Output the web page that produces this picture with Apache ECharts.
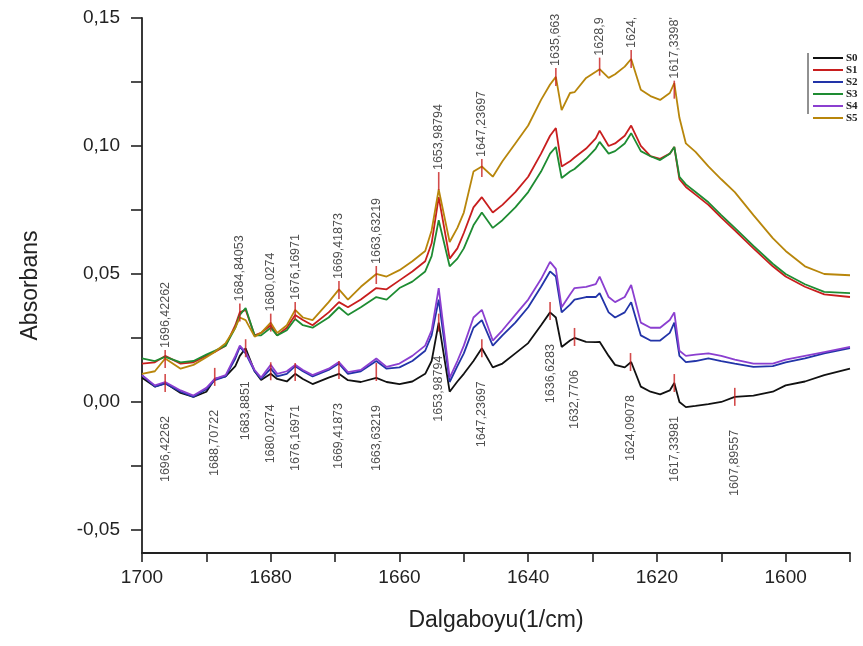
<!DOCTYPE html>
<html>
<head>
<meta charset="utf-8">
<style>
    html, body { margin: 0; padding: 0; background: #fff; }
    #main { width: 863px; height: 646px; }
</style>
</head>
<body>
<div id="main"></div>
<script src="https://cdn.jsdelivr.net/npm/echarts@6/dist/echarts.min.js"></script>
<script>
    // dalgaboyu (1/cm) - ortak x noktalari
    var wn = [1700, 1698, 1696.4, 1694, 1692, 1690, 1688.7, 1687, 1685.5, 1684.8,
        1683.9, 1682.5, 1681.5, 1680, 1679, 1677.5, 1676.2, 1675, 1673.5, 1671,
        1669.4, 1668, 1666, 1663.6, 1662, 1660, 1658, 1656, 1655, 1653.9,
        1652.2, 1651, 1650, 1648.5, 1647.2, 1645.5, 1644, 1642, 1640, 1638,
        1636.6, 1635.7, 1634.8, 1633.5, 1632.8, 1631, 1629.5, 1628.9, 1627.5, 1626.5,
        1625, 1624, 1622.5, 1621, 1619.5, 1618, 1617.3, 1616.5, 1615.5, 1614,
        1612, 1610, 1607.9, 1605, 1602, 1600, 1597, 1594, 1590];

    var s0 = [0.0095, 0.006, 0.0074, 0.0035, 0.002, 0.004, 0.009, 0.010, 0.014, 0.018,
        0.021, 0.012, 0.0086, 0.011, 0.009, 0.008, 0.011, 0.009, 0.007, 0.0095,
        0.011, 0.0085, 0.0078, 0.0094, 0.0078, 0.007, 0.008, 0.011, 0.016, 0.031,
        0.004, 0.008, 0.011, 0.016, 0.021, 0.0135, 0.015, 0.019, 0.023, 0.030,
        0.035, 0.033, 0.0215, 0.024, 0.025, 0.0235, 0.0234, 0.0235, 0.018, 0.0145,
        0.0135, 0.0156, 0.006, 0.004, 0.003, 0.0045, 0.0074, 0.0, -0.002, -0.0015,
        -0.0008, 0.0, 0.002, 0.0025, 0.004, 0.0065, 0.008, 0.0105, 0.013];

    var s1 = [0.015, 0.0155, 0.018, 0.015, 0.0155, 0.018, 0.0195, 0.022, 0.030, 0.035,
        0.036, 0.026, 0.027, 0.030, 0.026, 0.029, 0.034, 0.032, 0.030, 0.035,
        0.039, 0.037, 0.040, 0.0445, 0.044, 0.0475, 0.051, 0.055, 0.062, 0.080,
        0.056, 0.060, 0.066, 0.076, 0.080, 0.074, 0.077, 0.082, 0.088, 0.097,
        0.104, 0.107, 0.092, 0.094, 0.0955, 0.099, 0.103, 0.106, 0.100, 0.101,
        0.104, 0.108, 0.100, 0.096, 0.095, 0.097, 0.0996, 0.087, 0.084, 0.081,
        0.077, 0.072, 0.067, 0.060, 0.053, 0.049, 0.045, 0.042, 0.041];

    var s2 = [0.0105, 0.006, 0.0072, 0.004, 0.002, 0.005, 0.0085, 0.010, 0.017, 0.0215,
        0.019, 0.012, 0.009, 0.013, 0.010, 0.011, 0.014, 0.012, 0.010, 0.0125,
        0.015, 0.011, 0.012, 0.016, 0.013, 0.0135, 0.016, 0.020, 0.026, 0.040,
        0.0078, 0.014, 0.019, 0.029, 0.032, 0.022, 0.026, 0.031, 0.037, 0.045,
        0.051, 0.049, 0.035, 0.038, 0.040, 0.041, 0.041, 0.0425, 0.035, 0.033,
        0.035, 0.039, 0.026, 0.024, 0.024, 0.027, 0.031, 0.018, 0.0156, 0.016,
        0.017, 0.016, 0.015, 0.0137, 0.014, 0.0155, 0.017, 0.019, 0.021];

    var s3 = [0.017, 0.016, 0.0176, 0.0155, 0.016, 0.0185, 0.020, 0.022, 0.029, 0.034,
        0.0367, 0.026, 0.026, 0.029, 0.026, 0.028, 0.0324, 0.030, 0.029, 0.033,
        0.037, 0.034, 0.037, 0.041, 0.040, 0.0445, 0.047, 0.051, 0.057, 0.071,
        0.053, 0.056, 0.060, 0.069, 0.074, 0.068, 0.071, 0.076, 0.082, 0.090,
        0.097, 0.0996, 0.0875, 0.090, 0.091, 0.095, 0.099, 0.1016, 0.097, 0.098,
        0.101, 0.105, 0.098, 0.096, 0.0945, 0.097, 0.0996, 0.088, 0.085, 0.082,
        0.078, 0.073, 0.068, 0.061, 0.054, 0.050, 0.046, 0.043, 0.0425];

    var s4 = [0.0105, 0.0065, 0.0078, 0.0045, 0.0025, 0.0055, 0.009, 0.0105, 0.018, 0.022,
        0.0195, 0.0125, 0.0095, 0.0145, 0.011, 0.012, 0.0145, 0.0125, 0.0105, 0.013,
        0.0156, 0.0117, 0.0125, 0.017, 0.0137, 0.015, 0.018, 0.022, 0.028, 0.0445,
        0.0094, 0.016, 0.022, 0.033, 0.036, 0.024, 0.028, 0.034, 0.040, 0.048,
        0.0547, 0.052, 0.037, 0.042, 0.0445, 0.045, 0.046, 0.049, 0.041, 0.039,
        0.041, 0.0457, 0.031, 0.029, 0.029, 0.032, 0.035, 0.020, 0.018, 0.0185,
        0.019, 0.018, 0.0165, 0.015, 0.015, 0.0165, 0.018, 0.0195, 0.0215];

    var s5 = [0.011, 0.012, 0.017, 0.013, 0.0145, 0.0175, 0.0195, 0.023, 0.029, 0.033,
        0.032, 0.0255, 0.027, 0.031, 0.027, 0.030, 0.036, 0.033, 0.032, 0.039,
        0.044, 0.040, 0.045, 0.050, 0.049, 0.0515, 0.055, 0.059, 0.067, 0.083,
        0.0625, 0.068, 0.074, 0.090, 0.092, 0.088, 0.094, 0.101, 0.108, 0.118,
        0.124, 0.127, 0.114, 0.1207, 0.121, 0.1266, 0.129, 0.130, 0.1266, 0.128,
        0.131, 0.134, 0.122, 0.1195, 0.118, 0.1207, 0.1246, 0.111, 0.101, 0.0977,
        0.092, 0.087, 0.082, 0.073, 0.064, 0.059, 0.053, 0.050, 0.0495];

    var names = ['S0', 'S1', 'S2', 'S3', 'S4', 'S5'];
    var colors = ['#111111', '#c81e1e', '#2234a8', '#1e8c32', '#8b3fd0', '#b8860b'];

    // ust etiketler (S1/S3/S5 grubu)
    var topPeakWn = [1696.4, 1684.8, 1680, 1676.2, 1669.4, 1663.6, 1653.9, 1647.2, 1635.7, 1628.9, 1624, 1617.3];
    var topPeakVal = [0.0168, 0.035, 0.031, 0.0355, 0.0437, 0.0496, 0.0863, 0.0914, 0.127, 0.131, 0.134, 0.122];
    var topPeakText = ['1696,42262', '1684,84053', '1680,0274', '1676,16971', '1669,41873', '1663,63219',
        '1653,98794', '1647,23697', '1635,663', '1628,9', '1624,', "1617,3398'"];

    // alt etiketler (S0 egrisi)
    var lowPeakWn = [1696.4, 1688.7, 1683.9, 1680, 1676.2, 1669.4, 1663.6, 1653.9, 1647.2, 1636.6, 1632.8, 1624.1, 1617.3, 1607.9];
    var lowPeakVal = [0.0074, 0.0098, 0.021, 0.012, 0.0117, 0.0125, 0.0117, 0.031, 0.021, 0.0355, 0.0254, 0.0156, 0.0074, 0.002];
    var lowPeakText = ['1696,42262', '1688,70722', '1683,8851', '1680,0274', '1676,16971', '1669,41873', '1663,63219',
        '1653,98794', '1647,23697', '1636,6283', '1632,7706', '1624,09078', '1617,33981', '1607,89557'];

    var xTicks = [1590, 1600, 1610, 1620, 1630, 1640, 1650, 1660, 1670, 1680, 1690, 1700];
    var xLabels = [1600, 1620, 1640, 1660, 1680, 1700];
    var yTicks = [-0.05, -0.025, 0, 0.025, 0.05, 0.075, 0.1, 0.125, 0.15];
    var yLabels = [-0.05, 0, 0.05, 0.1, 0.15];

    var allVals = [s0, s1, s2, s3, s4, s5];
    var fontSans = "'Liberation Sans', Arial, sans-serif";

    var series = names.map(function (n, k) {
        return {
            name: n,
            type: 'line',
            symbol: 'none',
            showSymbol: false,
            silent: true,
            z: 2,
            lineStyle: { width: 1.8, color: colors[k] },
            itemStyle: { color: colors[k] },
            data: wn.map(function (x, i) { return [x, allVals[k][i]]; })
        };
    });

    series.push({
        type: 'scatter',
        symbol: 'rect',
        symbolSize: [1.6, 18],
        silent: true,
        z: 5,
        itemStyle: { color: '#c81e1e' },
        label: {
            show: true, position: 'top', distance: 2, rotate: 90,
            align: 'left', verticalAlign: 'middle',
            fontFamily: fontSans, fontSize: 12.5, color: '#222',
            formatter: function (p) { return p.data[2]; }
        },
        data: topPeakWn.map(function (x, i) { return [x, topPeakVal[i], topPeakText[i]]; })
    });

    series.push({
        type: 'scatter',
        symbol: 'rect',
        symbolSize: [1.6, 18],
        silent: true,
        z: 5,
        itemStyle: { color: '#c81e1e' },
        label: {
            show: true, position: 'bottom', distance: 24, rotate: 90,
            align: 'right', verticalAlign: 'middle',
            fontFamily: fontSans, fontSize: 12.5, color: '#222',
            formatter: function (p) { return p.data[2]; }
        },
        data: lowPeakWn.map(function (x, i) { return [x, lowPeakVal[i], lowPeakText[i]]; })
    });

    var option = {
        backgroundColor: '#fff',
        animation: false,
        grid: { left: 142, right: 13, top: 18, bottom: 93 },
        legend: {
            data: names,
            orient: 'vertical',
            left: 808, top: 47,
            icon: 'rect',
            itemWidth: 30, itemHeight: 2, itemGap: 0,
            textStyle: { fontFamily: "'Liberation Serif', 'DejaVu Serif', serif", fontWeight: 'bold', fontSize: 11, lineHeight: 12, color: '#222', padding: [0, 0, 0, -2] },
            selectedMode: false
        },
        graphic: [{
            type: 'line',
            shape: { x1: 808, y1: 53, x2: 808, y2: 114 },
            style: { stroke: '#222', lineWidth: 1 },
            silent: true
        }],
        xAxis: {
            type: 'value',
            inverse: true,
            min: 1590, max: 1700,
            name: 'Dalgaboyu(1/cm)',
            nameLocation: 'middle',
            nameGap: 56,
            nameTextStyle: { fontFamily: fontSans, fontSize: 23, color: '#222', verticalAlign: 'top' },
            axisLine: { onZero: false, lineStyle: { color: '#222', width: 1.8 } },
            axisTick: { show: true, inside: false, length: 9, lineStyle: { color: '#222', width: 1.6 }, customValues: xTicks },
            axisLabel: {
                fontFamily: fontSans, fontSize: 19, color: '#222', margin: 15, customValues: xLabels,
                formatter: function (v) { return String(v); }
            },
            splitLine: { show: false }
        },
        yAxis: {
            type: 'value',
            min: -0.059, max: 0.15,
            name: 'Absorbans',
            nameLocation: 'middle',
            nameGap: 100,
            nameTextStyle: { fontFamily: fontSans, fontSize: 23, color: '#222' },
            axisLine: { show: true, onZero: false, lineStyle: { color: '#222', width: 1.8 } },
            axisTick: { show: true, inside: false, length: 11, lineStyle: { color: '#222', width: 1.6 }, customValues: yTicks },
            axisLabel: {
                fontFamily: fontSans, fontSize: 19, color: '#222', margin: 22, customValues: yLabels,
                formatter: function (v) { return v.toFixed(2).replace('.', ','); }
            },
            splitLine: { show: false }
        },
        series: series
    };

    var chart = echarts.init(document.getElementById('main'), null, { renderer: 'canvas' });
    chart.setOption(option);
</script>
</body>
</html>
